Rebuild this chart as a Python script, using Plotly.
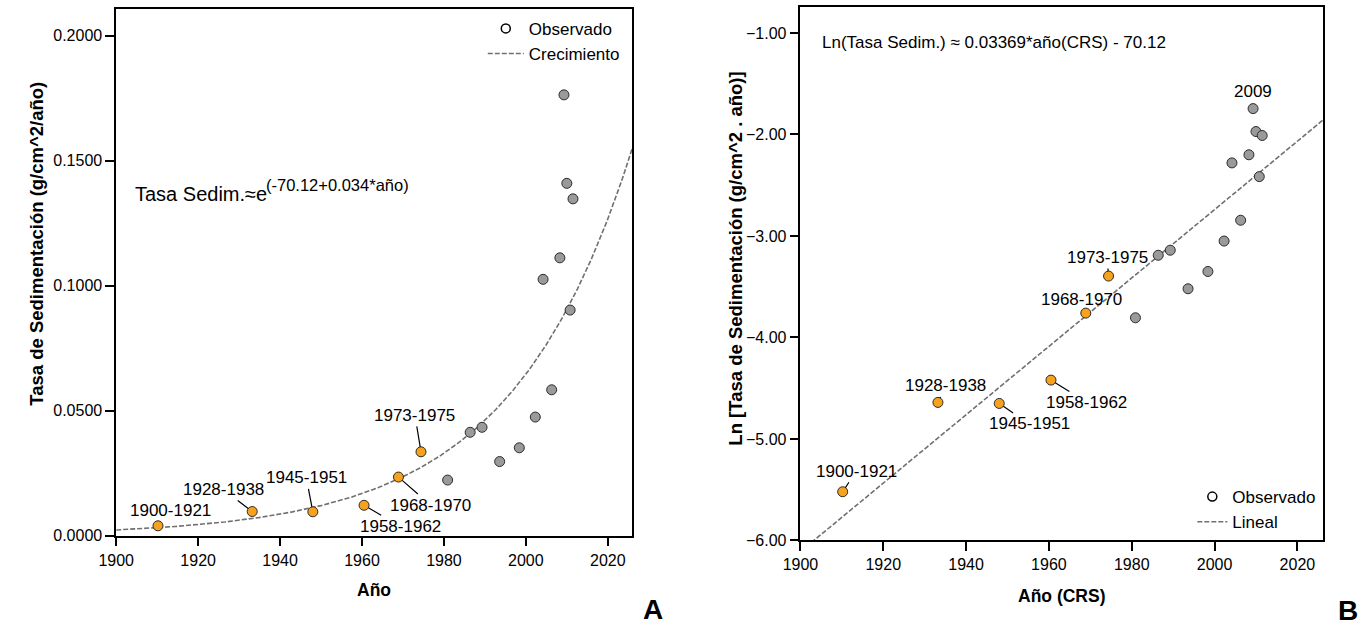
import numpy as np
import plotly.graph_objects as go

# ---------------- data ----------------
years_gray = [2009.3, 2010.0, 2011.5, 2008.3, 2004.2, 2010.8, 2006.3, 2002.3,
              1989.3, 1986.4, 1998.4, 1993.6, 1980.9]
tasa_gray = [0.1763, 0.1409, 0.1347, 0.1111, 0.1025, 0.0902, 0.0583, 0.0474,
             0.0433, 0.0413, 0.0351, 0.0296, 0.0222]
ln_gray = [-1.745, -1.971, -2.010, -2.200, -2.280, -2.415, -2.845, -3.050,
           -3.140, -3.190, -3.350, -3.520, -3.806]

periodos = ["1900-1921", "1928-1938", "1945-1951", "1958-1962", "1968-1970", "1973-1975"]
years_orange = [1910.2, 1933.2, 1948.0, 1960.5, 1968.9, 1974.4]
tasa_orange = [0.0039, 0.0096, 0.0095, 0.0121, 0.0234, 0.0335]
ln_orange = [-5.52, -4.64, -4.65, -4.42, -3.76, -3.395]

label_2009 = "2009"
fit_intercept = -70.12
fit_slope = 0.03369

x_ticks = [1900, 1920, 1940, 1960, 1980, 2000, 2020]
yA_ticks = [0.0, 0.05, 0.10, 0.15, 0.20]
yB_ticks = [-6.0, -5.0, -4.0, -3.0, -2.0, -1.0]

# ---------------- styling / layout constants ----------------
W, H = 1365, 630
FONT = "Liberation Sans, Arial, Helvetica, sans-serif"
GRAY = "#9a9a9a"
ORANGE = "#f7a11c"
EDGE = "#2b2b2b"
LINE = "#707070"

def px(xp):
    return xp / W

def py(yp):
    return 1 - yp / H

# label offsets in pixels (text centre relative to point)
offA = {"1900-1921": (12.5, -15), "1928-1938": (-29, -22), "1945-1951": (-6.5, -34),
        "1958-1962": (36, 21), "1968-1970": (32, 28), "1973-1975": (-6, -36.5)}
offB = {"1900-1921": (13.5, -20.5), "1928-1938": (8, -16.5), "1945-1951": (30, 20.5),
        "1958-1962": (36, 22.5), "1968-1970": (-4.5, -13.5), "1973-1975": (-1.5, -18.5)}

fig = go.Figure()

# fitted model curves
yr = np.linspace(1900, 2026.2, 400)
fit_A = np.exp(fit_intercept + fit_slope * yr)
fit_B = fit_intercept + fit_slope * yr

mk_gray = dict(size=10, color=GRAY, line=dict(color=EDGE, width=1))
mk_orange = dict(size=10, color=ORANGE, line=dict(color=EDGE, width=1))
mk_legend = dict(size=9, color="white", line=dict(color="black", width=1.5))
dash_line = dict(color=LINE, width=1.6, dash="5px,2px")

# ---- panel A ----
fig.add_trace(go.Scatter(x=[None], y=[None], mode="markers", marker=mk_legend,
                         name="Observado", legend="legend", xaxis="x", yaxis="y"))
fig.add_trace(go.Scatter(x=yr, y=fit_A, mode="lines", line=dash_line,
                         name="Crecimiento", legend="legend", xaxis="x", yaxis="y"))
fig.add_trace(go.Scatter(x=years_gray, y=tasa_gray, mode="markers", marker=mk_gray,
                         showlegend=False, xaxis="x", yaxis="y"))
fig.add_trace(go.Scatter(x=years_orange, y=tasa_orange, mode="markers", marker=mk_orange,
                         showlegend=False, xaxis="x", yaxis="y"))

# ---- panel B ----
fig.add_trace(go.Scatter(x=[None], y=[None], mode="markers", marker=mk_legend,
                         name="Observado", legend="legend2", xaxis="x2", yaxis="y2"))
fig.add_trace(go.Scatter(x=yr, y=fit_B, mode="lines", line=dash_line,
                         name="Lineal", legend="legend2", xaxis="x2", yaxis="y2"))
fig.add_trace(go.Scatter(x=years_gray, y=ln_gray, mode="markers", marker=mk_gray,
                         showlegend=False, xaxis="x2", yaxis="y2"))
fig.add_trace(go.Scatter(x=years_orange, y=ln_orange, mode="markers", marker=mk_orange,
                         showlegend=False, xaxis="x2", yaxis="y2"))

axis_common = dict(showline=True, linecolor="black", linewidth=1.6, mirror=True,
                   ticks="outside", ticklen=9, tickwidth=1.5, tickcolor="black",
                   showgrid=False, zeroline=False,
                   tickfont=dict(family=FONT, size=16, color="black"))

annotations = []
lab_font = dict(family=FONT, size=17, color="black")
for i, p in enumerate(periodos):
    dx, dy = offA[p]
    annotations.append(dict(x=years_orange[i], y=tasa_orange[i], xref="x", yref="y",
                            text=p, showarrow=True, arrowhead=0, arrowwidth=1.2,
                            arrowcolor="black", ax=dx, ay=dy, standoff=5,
                            font=lab_font))
    dx, dy = offB[p]
    annotations.append(dict(x=years_orange[i], y=ln_orange[i], xref="x2", yref="y2",
                            text=p, showarrow=True, arrowhead=0, arrowwidth=1.2,
                            arrowcolor="black", ax=dx, ay=dy, standoff=5,
                            font=lab_font))
annotations.append(dict(x=years_gray[0], y=ln_gray[0], xref="x2", yref="y2",
                        text=label_2009, showarrow=False, yshift=17,
                        xanchor="center", yanchor="middle", font=lab_font))

def paper_text(xp, yp, text, font, **kw):
    d = dict(x=px(xp), y=py(yp), xref="paper", yref="paper", showarrow=False,
             xanchor="center", yanchor="middle", text=text, font=font)
    d.update(kw)
    annotations.append(d)

# formulas
paper_text(252, 197, "Tasa Sedim.≈e", dict(family=FONT, size=20, color="black"),
           xanchor="right", borderpad=0, borderwidth=0)
paper_text(251, 188, "(-70.12+0.034*año)", dict(family=FONT, size=16.5, color="black"),
           xanchor="left", borderpad=0, borderwidth=0)
paper_text(813, 43.5, "Ln(Tasa Sedim.) ≈ 0.03369*año(CRS) - 70.12",
           dict(family=FONT, size=17, color="black"), xanchor="left")

# axis titles
bold = dict(family=FONT, size=17.5, color="black", weight="bold")
paper_text(361, 599, "Año", bold)
paper_text(1057.6, 605, "Año (CRS)", bold)
ybold = dict(family=FONT, size=18.5, color="black", weight="bold")
paper_text(18.5, 247, "Tasa de Sedimentación (g/cm^2/año)", ybold, textangle=-90)
paper_text(727, 262, "Ln [Tasa de Sedimentación (g/cm^2 . año)]", ybold, textangle=-90)

# panel letters
big = dict(family=FONT, size=28, color="black", weight="bold")
paper_text(643, 618, "A", big)
paper_text(1348, 619, "B", big)

legend_font = dict(family=FONT, size=17, color="black")
fig.update_layout(
    width=W, height=H,
    margin=dict(l=0, r=0, t=0, b=0),
    paper_bgcolor="white", plot_bgcolor="white",
    font=dict(family=FONT, color="black"),
    xaxis=dict(domain=[px(99.5), px(622.6)], range=[1900, 2026], tickvals=x_ticks,
               anchor="y", **axis_common),
    yaxis=dict(domain=[py(543.3), py(9)], range=[0, 0.2107], tickvals=yA_ticks,
               tickformat=".4f", anchor="x", **axis_common),
    xaxis2=dict(domain=[px(792.9), px(1322.5)], range=[1900, 2026.2], tickvals=x_ticks,
                anchor="y2", **axis_common),
    yaxis2=dict(domain=[py(548.3), py(6.7)], range=[-6, -0.74], tickvals=yB_ticks,
                tickformat=".2f", anchor="x2", **axis_common),
    legend=dict(x=px(471), y=py(11), xanchor="left", yanchor="top", bgcolor="rgba(0,0,0,0)",
                font=legend_font, itemwidth=36, tracegroupgap=0, borderwidth=0),
    legend2=dict(x=px(1190), y=py(486), xanchor="left", yanchor="top", bgcolor="rgba(0,0,0,0)",
                 font=legend_font, itemwidth=30, tracegroupgap=0, borderwidth=0),
    annotations=annotations,
    showlegend=True,
)

fig.write_html("out.html")
